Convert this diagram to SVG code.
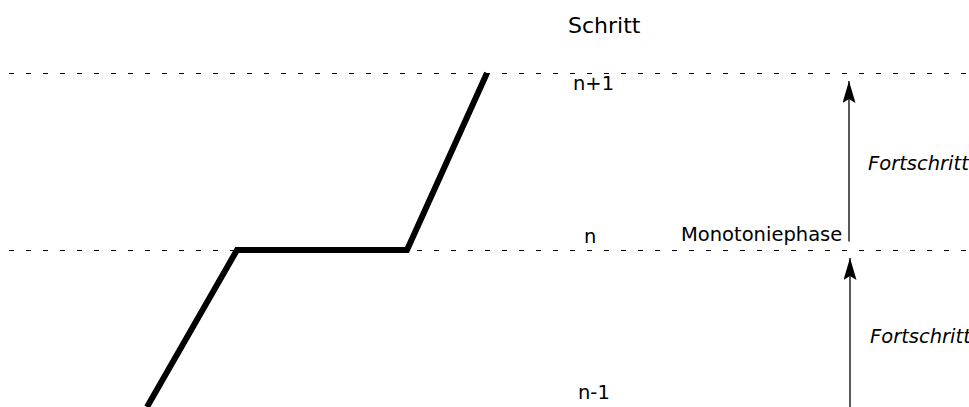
<svg xmlns="http://www.w3.org/2000/svg" width="969" height="407" viewBox="0 0 969 407">
<style>
.dash{stroke:#000;stroke-width:1;stroke-dasharray:5,12;fill:none}
.curve{stroke:#000;stroke-width:6;fill:none;stroke-linejoin:miter}
.arr{stroke:#000;stroke-width:1.3;fill:none}
.t{font-family:"DejaVu Sans",sans-serif;font-size:19.5px;fill:#000}
.big{font-size:22px}
.it{font-style:italic}
</style>
<defs>
<marker id="ah" viewBox="0 0 23 13" refX="22" refY="6.5" markerWidth="23" markerHeight="13" markerUnits="userSpaceOnUse" orient="auto">
<path d="M22,6.5 L0,0 L4,6.5 L0,13 Z" fill="#000"/>
</marker>
</defs>
<rect width="969" height="407" fill="#fff"/>
<g id="connectors">
<line class="dash" x1="9" y1="73.5" x2="969" y2="73.5"/>
<line class="dash" x1="9" y1="250.5" x2="969" y2="250.5"/>
<polyline class="curve" points="147,407 237,250 407,250 487,73"/>
<line class="arr" x1="849" y1="241.5" x2="849" y2="81" marker-end="url(#ah)"/>
<line class="arr" x1="850" y1="407" x2="850" y2="258" marker-end="url(#ah)"/>
</g>
<g id="labels">
<text id="schritt" class="t big" x="568" y="33">Schritt</text>
<text id="n1" class="t" x="573" y="90">n+1</text>
<text id="n" class="t" x="584" y="243">n</text>
<text id="nm1" class="t" x="578" y="399">n-1</text>
<text id="mono" class="t" x="681" y="241">Monotoniephase</text>
<text id="fort1" class="t it" x="868" y="170">Fortschritt</text>
<text id="fort2" class="t it" x="870" y="343">Fortschritt</text>
</g>
</svg>
